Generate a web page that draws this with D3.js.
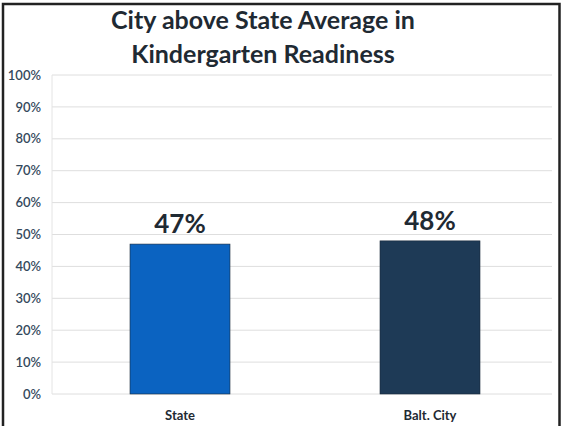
<!DOCTYPE html>
<html>
<head>
<meta charset="utf-8">
<script src="https://cdn.jsdelivr.net/npm/d3@7"></script>
<style>
  body { margin: 0; background: #fff; }
  svg { display: block; font-family: Lato, "Open Sans", sans-serif; }
</style>
</head>
<body>
<svg width="561" height="426"></svg>
<script>
var categories = ['State', 'Balt. City'];
var values = [47, 48];
var barColors = ['#0b63c1', '#1e3a56'];
var tickValues = [0, 10, 20, 30, 40, 50, 60, 70, 80, 90, 100];
var titleLines = ['City above State Average in', 'Kindergarten Readiness'];

var svg = d3.select('svg');

// frame of the scanned chart
svg.append('path')
  .attr('d', 'M3,426 V4 H559.5 V426')
  .attr('fill', 'none')
  .attr('stroke', '#222')
  .attr('stroke-width', 2.5);

var x = d3.scaleBand()
  .domain(categories)
  .range([55, 555])
  .paddingInner(0.6)
  .paddingOuter(0.3);

var y = d3.scaleLinear()
  .domain([0, 100])
  .range([394, 75]);

// gridlines
svg.selectAll('.grid')
  .data(tickValues)
  .enter().append('line')
    .attr('class', 'grid')
    .attr('x1', 52)
    .attr('x2', 552)
    .attr('y1', function(d) { return y(d); })
    .attr('y2', function(d) { return y(d); })
    .attr('stroke', '#dedede')
    .attr('stroke-width', 1);

svg.append('line')
  .attr('x1', 52).attr('x2', 52)
  .attr('y1', y(100)).attr('y2', y(0))
  .attr('stroke', '#e4e4e4');

// y axis labels
var yAxis = d3.axisLeft(y)
  .tickValues(tickValues)
  .tickFormat(function(d) { return d + '%'; })
  .tickSize(0)
  .tickPadding(0);

var gy = svg.append('g')
  .attr('transform', 'translate(41,0)')
  .call(yAxis);
gy.select('.domain').remove();
gy.selectAll('text')
  .attr('fill', '#34495c')
  .attr('font-size', 13)
  .attr('font-weight', 600)
  .attr('font-family', 'Lato, sans-serif');

// bars
svg.selectAll('.bar')
  .data(values)
  .enter().append('rect')
    .attr('class', 'bar')
    .attr('x', function(d, i) { return x(categories[i]); })
    .attr('width', x.bandwidth())
    .attr('y', function(d) { return y(d); })
    .attr('height', function(d) { return y(0) - y(d); })
    .attr('fill', function(d, i) { return barColors[i]; })
    .attr('stroke', '#1a2a3a')
    .attr('stroke-width', 0.6);

// value labels
svg.selectAll('.val')
  .data(values)
  .enter().append('text')
    .attr('class', 'val')
    .attr('x', function(d, i) { return x(categories[i]) + x.bandwidth() / 2; })
    .attr('y', function(d) { return y(d) - 11; })
    .attr('text-anchor', 'middle')
    .attr('font-size', 26)
    .attr('font-weight', 700)
    .attr('fill', '#1f2a33')
    .text(function(d) { return d + '%'; });

// category labels
svg.selectAll('.cat')
  .data(categories)
  .enter().append('text')
    .attr('class', 'cat')
    .attr('x', function(d) { return x(d) + x.bandwidth() / 2; })
    .attr('y', 420)
    .attr('text-anchor', 'middle')
    .attr('font-size', 13)
    .attr('font-weight', 700)
    .attr('fill', '#1f2a33')
    .text(function(d) { return d; });

// title
svg.selectAll('.title')
  .data(titleLines)
  .enter().append('text')
    .attr('class', 'title')
    .attr('x', 263)
    .attr('y', function(d, i) { return 29 + i * 34; })
    .attr('text-anchor', 'middle')
    .attr('font-size', 25)
    .attr('font-weight', 700)
    .attr('fill', '#1f2a33')
    .text(function(d) { return d; });
</script>
</body>
</html>
